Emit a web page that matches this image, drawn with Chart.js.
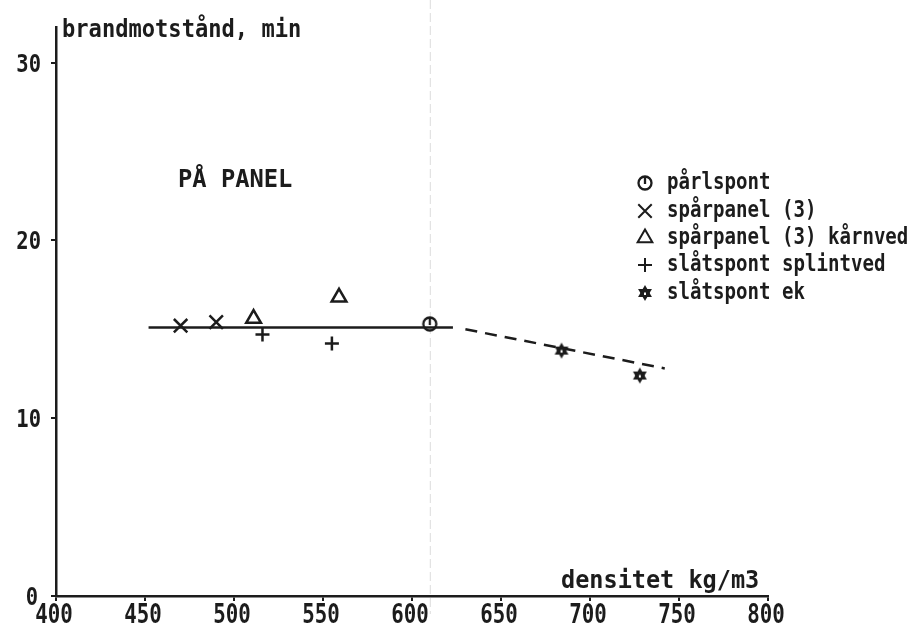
<!DOCTYPE html>
<html>
<head>
<meta charset="utf-8">
<script src="https://cdn.jsdelivr.net/npm/chart.js"></script>
<style>
  html, body { margin: 0; padding: 0; background: #fff; }
  #wrap { width: 916px; height: 626px; }
</style>
</head>
<body>
<div id="wrap"><canvas id="myChart"></canvas></div>
<script>
// mätvärden: densitet (kg/m3) och brandmotstånd (min)
const seriesLabels = ['pårlspont', 'spårpanel (3)', 'spårpanel (3) kårnved', 'slåtspont splintved', 'slåtspont ek'];
const parlX = [610];        const parlY = [15.3];
const sparX = [470, 490];   const sparY = [15.2, 15.4];
const karnX = [511, 559];   const karnY = [15.6, 16.8];
const splintX = [516, 555]; const splintY = [14.7, 14.2];
const ekX = [684, 728];     const ekY = [13.8, 12.4];

// anpassade linjer
const solidX = [452, 623];  const solidY = [15.1, 15.1];
const dashX = [630, 742];   const dashY = [15.0, 12.8];

const xTicks = [400, 450, 500, 550, 600, 650, 700, 750, 800];
const yTicks = [0, 10, 20, 30];
const markLine = 610;

const ink = '#1c1c1c';
const FONT = '"DejaVu Sans Mono"';

function pts(xs, ys) { return xs.map((x, i) => ({ x: x, y: ys[i] })); }

function makeMarker(size, draw) {
  const c = document.createElement('canvas');
  c.width = size; c.height = size;
  const g = c.getContext('2d');
  g.strokeStyle = ink; g.fillStyle = ink;
  draw(g, size / 2);
  return c;
}

// cirkel med streck (pärlspont)
const circleMark = makeMarker(20, (g, m) => {
  g.lineWidth = 2.3;
  g.beginPath(); g.arc(m, m, 6.5, 0, Math.PI * 2); g.stroke();
  g.beginPath(); g.moveTo(m, m - 7); g.lineTo(m, m + 1); g.stroke();
});

// sexuddig stjärna (ek)
const starMark = makeMarker(20, (g, m) => {
  const r = 8;
  g.beginPath();
  for (let k = 0; k < 3; k++) {
    const a = -Math.PI / 2 + k * 2 * Math.PI / 3;
    g[k ? 'lineTo' : 'moveTo'](m + r * Math.cos(a), m + r * Math.sin(a));
  }
  g.closePath(); g.fill();
  g.beginPath();
  for (let k = 0; k < 3; k++) {
    const a = Math.PI / 2 + k * 2 * Math.PI / 3;
    g[k ? 'lineTo' : 'moveTo'](m + r * Math.cos(a), m + r * Math.sin(a));
  }
  g.closePath(); g.fill();
  g.beginPath(); g.arc(m, m, 4.3, 0, Math.PI * 2); g.fill();
  g.fillStyle = '#fff';
  g.fillRect(m - 1, m - 0.5, 2, 2.5);
});

function pointSet(label, data, style, radius) {
  return {
    label: label,
    data: data,
    showLine: false,
    pointStyle: style,
    pointRadius: radius,
    pointHoverRadius: radius,
    pointBorderWidth: 2.5,
    borderColor: ink,
    backgroundColor: 'rgba(0,0,0,0)'
  };
}

const pointSets = [
  pointSet(seriesLabels[0], pts(parlX, parlY), circleMark, 8),
  pointSet(seriesLabels[1], pts(sparX, sparY), 'crossRot', 9.5),
  pointSet(seriesLabels[2], pts(karnX, karnY), 'triangle', 8.5),
  pointSet(seriesLabels[3], pts(splintX, splintY), 'cross', 7),
  pointSet(seriesLabels[4], pts(ekX, ekY), starMark, 8)
];

function drawWide(ctx, text, x, y, size, sx, align) {
  ctx.save();
  ctx.font = 'bold ' + size + 'px ' + FONT;
  const w = ctx.measureText(text).width * sx;
  let left = x;
  if (align === 'center') left = x - w / 2;
  else if (align === 'right') left = x - w;
  ctx.translate(left, y);
  ctx.scale(sx, 1);
  ctx.fillStyle = ink;
  ctx.textAlign = 'left';
  ctx.textBaseline = 'alphabetic';
  ctx.fillText(text, 0, 0);
  ctx.restore();
}

const textPlugin = {
  id: 'plotterText',
  beforeDatasetsDraw(chart) {
    const ctx = chart.ctx;
    const px = chart.scales.x.getPixelForValue(markLine);
    ctx.save();
    ctx.strokeStyle = '#dcdcdc';
    ctx.lineWidth = 1;
    ctx.setLineDash([9, 4]);
    ctx.beginPath();
    ctx.moveTo(px + 0.5, 0);
    ctx.lineTo(px + 0.5, 614);
    ctx.stroke();
    ctx.restore();
  },
  afterDraw(chart) {
    const ctx = chart.ctx;
    const xs = chart.scales.x, ys = chart.scales.y;
    const area = chart.chartArea;

    xTicks.forEach(v => {
      drawWide(ctx, String(v), xs.getPixelForValue(v) - 2, area.bottom + 27, 26, 0.8, 'center');
    });
    yTicks.forEach(v => {
      const right = v === 0 ? area.left - 18 : area.left - 15;
      drawWide(ctx, String(v), right, ys.getPixelForValue(v) + 9, 25, 0.82, 'right');
    });

    drawWide(ctx, 'brandmotstånd, min', area.left + 6, 37, 24, 0.92, 'left');
    drawWide(ctx, 'densitet kg/m3', 561, 588, 24, 0.98, 'left');
    drawWide(ctx, 'PÅ PANEL', 178, 187, 25, 0.95, 'left');

    // förklaring
    const rows = [183, 211, 238, 265, 293];
    pointSets.forEach((ds, i) => {
      const y = rows[i];
      ctx.save();
      ctx.strokeStyle = ink;
      ctx.fillStyle = 'rgba(0,0,0,0)';
      ctx.lineWidth = 2;
      if (typeof ds.pointStyle === 'string') {
        Chart.helpers.drawPoint(ctx, {
          pointStyle: ds.pointStyle, radius: ds.pointRadius, rotation: 0, borderWidth: 2
        }, 645, y);
      } else {
        ctx.drawImage(ds.pointStyle, 645 - 10, y - 10);
      }
      ctx.restore();
      drawWide(ctx, ds.label, 667, y + 6, 23, 0.83, 'left');
    });
  }
};

const ctx = document.getElementById('myChart').getContext('2d');

const data = {
  datasets: [
    ...pointSets,
    {
      label: 'fit1',
      data: pts(solidX, solidY),
      showLine: true,
      borderColor: ink,
      borderWidth: 2.5,
      pointRadius: 0
    },
    {
      label: 'fit2',
      data: pts(dashX, dashY),
      showLine: true,
      borderColor: ink,
      borderWidth: 2.5,
      borderDash: [12, 8],
      pointRadius: 0
    }
  ]
};

const config = {
  type: 'scatter',
  data: data,
  options: {
    responsive: true,
    maintainAspectRatio: false,
    animation: false,
    layout: { padding: { left: 0, top: 27, right: 148, bottom: 0 } },
    plugins: { legend: { display: false }, tooltip: { enabled: false } },
    scales: {
      x: {
        type: 'linear',
        min: 400,
        max: 800,
        afterFit(s) { s.height = 30; },
        ticks: { display: false, stepSize: 50 },
        grid: { drawOnChartArea: false, drawTicks: true, tickLength: 5, color: ink, lineWidth: 2 },
        border: { display: true, color: ink, width: 2.5 }
      },
      y: {
        min: 0,
        max: 32,
        afterFit(s) { s.width = 56; },
        ticks: { display: false, stepSize: 10, includeBounds: false },
        grid: { drawOnChartArea: false, drawTicks: true, tickLength: 5, color: ink, lineWidth: 2 },
        border: { display: true, color: ink, width: 2.5 }
      }
    }
  },
  plugins: [textPlugin]
};

new Chart(ctx, config);
</script>
</body>
</html>
